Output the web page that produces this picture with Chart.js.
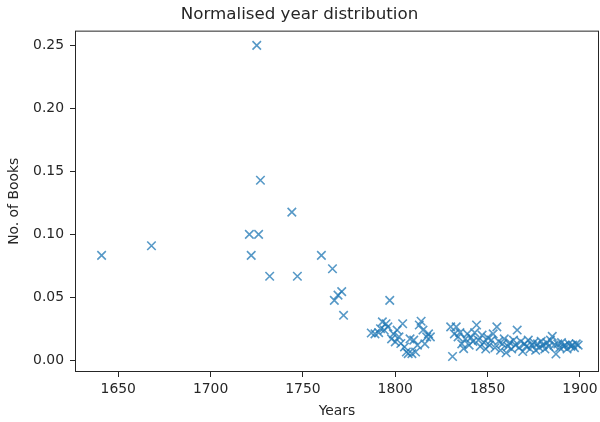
<!DOCTYPE html>
<html>
<head>
<meta charset="utf-8">
<script src="https://cdn.jsdelivr.net/npm/chart.js@4"></script>
<style>
  html, body { margin: 0; padding: 0; background: #fff; }
  #wrap { width: 600px; height: 422px; }
</style>
</head>
<body>
<div id="wrap"><canvas id="myChart" width="600" height="422"></canvas></div>
<script>
// data
const years = [
  1641, 1668, 1721, 1722, 1725, 1726, 1727, 1732, 1744, 1747,
  1760, 1766, 1767, 1769, 1771, 1772,
  1787, 1789, 1791, 1792, 1793, 1794, 1795, 1796, 1797, 1798,
  1799, 1800, 1801, 1802, 1803, 1804, 1805, 1806, 1807, 1808,
  1809, 1810, 1811, 1812, 1813, 1814, 1815, 1816, 1817, 1818, 1819,
  1830, 1831, 1832, 1833, 1834, 1835, 1836, 1837, 1838, 1839,
  1840, 1841, 1842, 1843, 1844, 1845, 1846, 1847, 1848, 1849,
  1850, 1851, 1852, 1853, 1854, 1855, 1856, 1857, 1858, 1859,
  1860, 1861, 1862, 1863, 1864, 1865, 1866, 1867, 1868, 1869,
  1870, 1871, 1872, 1873, 1874, 1875, 1876, 1877, 1878, 1879,
  1880, 1881, 1882, 1883, 1884, 1885, 1886, 1887, 1888, 1889,
  1890, 1891, 1892, 1893, 1894, 1895, 1896, 1897, 1898, 1899
];
const books = [
  0.0833, 0.0909, 0.1, 0.0833, 0.25, 0.1, 0.1429, 0.0667, 0.1176, 0.0667,
  0.0833, 0.0727, 0.0476, 0.0517, 0.0545, 0.0357,
  0.0217, 0.021, 0.022, 0.025, 0.0305, 0.024, 0.029, 0.0265, 0.0476, 0.017,
  0.021, 0.0146, 0.024, 0.0186, 0.0133, 0.029, 0.0106, 0.0066, 0.0053, 0.017,
  0.0053, 0.016, 0.0066, 0.012, 0.028, 0.031, 0.024, 0.013, 0.0186, 0.021, 0.0186,
  0.0265, 0.003, 0.021, 0.0265, 0.0186, 0.022, 0.013, 0.0093, 0.017, 0.021,
  0.012, 0.018, 0.015, 0.022, 0.028, 0.016, 0.011, 0.02, 0.014, 0.009,
  0.018, 0.012, 0.016, 0.021, 0.01, 0.0265, 0.015, 0.008, 0.013, 0.017,
  0.006, 0.011, 0.014, 0.009, 0.016, 0.012, 0.024, 0.01, 0.015, 0.007,
  0.013, 0.011, 0.016, 0.009, 0.012, 0.014, 0.008, 0.013, 0.01, 0.015,
  0.012, 0.009, 0.014, 0.011, 0.016, 0.019, 0.012, 0.005, 0.013, 0.01,
  0.014, 0.011, 0.012, 0.009, 0.013, 0.011, 0.012, 0.01, 0.013, 0.012
];
const xTicks = [1650, 1700, 1750, 1800, 1850, 1900];
const yTicks = [0, 0.05, 0.1, 0.15, 0.2, 0.25];

const points = [];
for (let i = 0; i < years.length; i++) {
  points.push({ x: years[i], y: books[i] });
}

const ink = '#262626';
const fontFam = "'DejaVu Sans', sans-serif";

// box round the plot area
const frame = {
  id: 'frame',
  afterDraw(chart) {
    const a = chart.chartArea;
    const ctx = chart.ctx;
    ctx.save();
    ctx.strokeStyle = ink;
    ctx.lineWidth = 1;
    ctx.strokeRect(a.left + 0.5, a.top + 0.5, a.right - a.left - 1, a.bottom - a.top - 1);
    ctx.restore();
  }
};

// chart.js keeps room for half of the end labels, drop that
function noSidePad(scale) {
  scale.paddingLeft = 0;
  scale.paddingRight = 0;
  scale.paddingTop = 0;
  scale.paddingBottom = 0;
}

const config = {
  type: 'scatter',
  data: {
    datasets: [{
      data: points,
      pointStyle: 'crossRot',
      pointRadius: 6,
      pointHoverRadius: 6,
      borderWidth: 1.6,
      borderColor: 'rgba(31, 119, 180, 0.75)',
      backgroundColor: 'rgba(31, 119, 180, 0.75)'
    }]
  },
  options: {
    responsive: false,
    animation: false,
    events: [],
    layout: { autoPadding: false, padding: { left: 0, right: 1, top: 0, bottom: 0 } },
    plugins: {
      legend: { display: false },
      tooltip: { enabled: false },
      title: {
        display: true,
        text: 'Normalised year distribution',
        color: ink,
        font: { family: fontFam, size: 16.7, weight: 'normal' },
        padding: { top: 5, bottom: 5.6 }
      }
    },
    scales: {
      x: {
        type: 'linear',
        min: 1626.6,
        max: 1910.3,
        afterFit(scale) {
          scale.height = 50;
          noSidePad(scale);
        },
        afterBuildTicks(scale) { scale.ticks = xTicks.map(v => ({ value: v })); },
        border: { display: false },
        grid: { drawOnChartArea: false, drawTicks: true, tickLength: 5, color: ink },
        ticks: {
          color: ink, padding: 4, maxRotation: 0,
          font: { family: fontFam, size: 13.9 },
          callback: v => String(v)
        },
        title: {
          display: true, text: 'Years', color: ink,
          font: { family: fontFam, size: 13.9 },
          padding: { top: 0, bottom: 2 }
        }
      },
      y: {
        min: -0.0093,
        max: 0.2617,
        afterFit(scale) {
          scale.width = 75;
          noSidePad(scale);
        },
        afterBuildTicks(scale) { scale.ticks = yTicks.map(v => ({ value: v })); },
        border: { display: false },
        grid: { drawOnChartArea: false, drawTicks: true, tickLength: 5, color: ink },
        ticks: {
          color: ink, padding: 6,
          font: { family: fontFam, size: 13.9 },
          callback: v => v.toFixed(2)
        },
        title: {
          display: true, text: 'No. of Books', color: ink,
          font: { family: fontFam, size: 13.9 },
          padding: { top: 6, bottom: 0 }
        }
      }
    }
  },
  plugins: [frame]
};

const myChart = new Chart(document.getElementById('myChart'), config);
</script>
</body>
</html>
